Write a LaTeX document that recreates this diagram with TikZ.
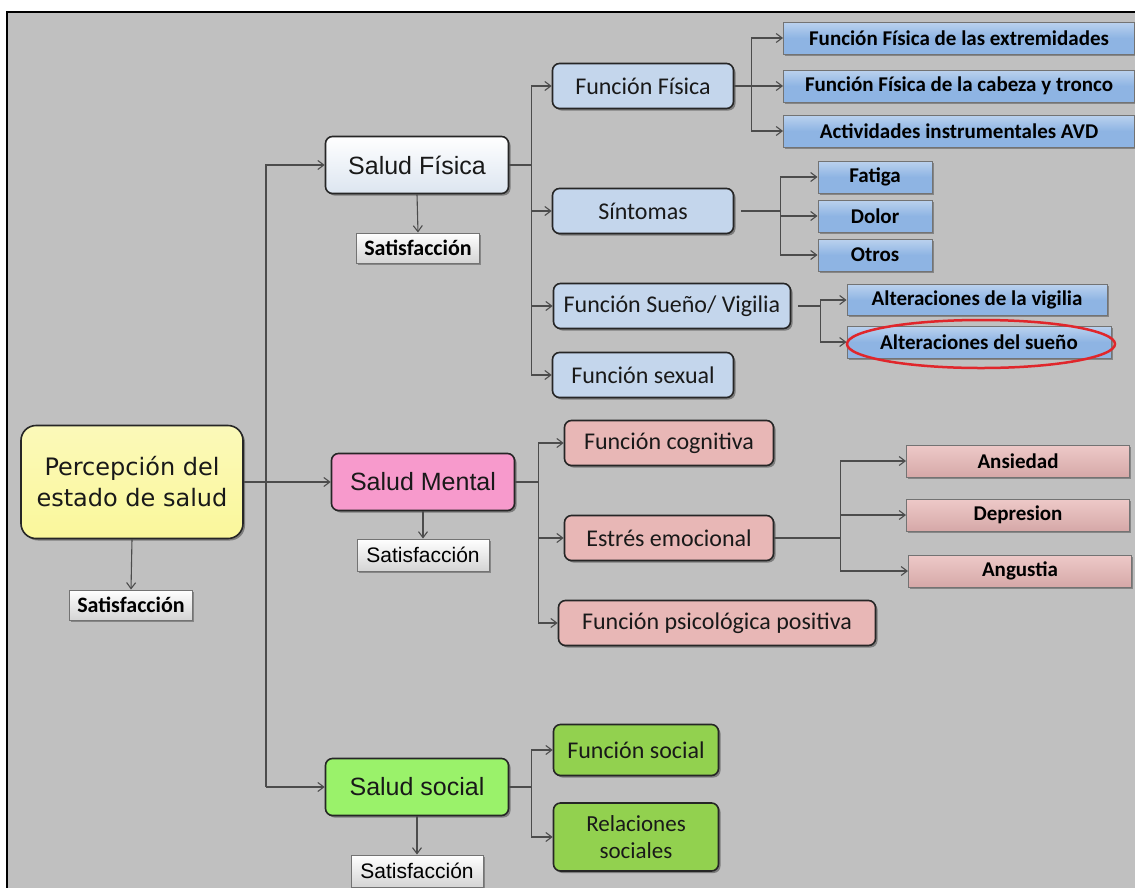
\documentclass[tikz,border=0pt]{standalone}
\usepackage{fontspec}
\newfontfamily\calfont{Carlito}
\newfontfamily\arfont{Liberation Sans}
\newfontfamily\dvfont{DejaVu Sans}
\usetikzlibrary{shadows,arrows.meta}

\definecolor{bggray}{HTML}{C0C0C0}
\definecolor{percyel}{HTML}{FAF79B}
\definecolor{fisblue}{HTML}{DCE5F0}
\definecolor{funblue}{HTML}{C4D6EC}
\definecolor{subblue}{HTML}{8EB4E3}
\definecolor{menpink}{HTML}{F79ACC}
\definecolor{funpink}{HTML}{E8B7B6}
\definecolor{socgreen}{HTML}{9AF26A}
\definecolor{fungreen}{HTML}{92D14F}
\definecolor{satgray}{HTML}{ECECEC}
\definecolor{ovalred}{HTML}{E0262B}

\begin{document}
\begin{tikzpicture}[x=1pt, y=-1pt, >={Straight Barb[length=6pt,width=9pt]},
  conn/.style={draw=black!70, line width=1.1pt},
  box/.style={draw=black!85, line width=1.6pt, rounded corners=7pt, inner sep=0pt,
    align=center, text=black!90,
    drop shadow={shadow xshift=2pt, shadow yshift=-2pt, fill=black, opacity=0.35}},
  salud/.style={box, minimum width=183pt, minimum height=57pt,
    font=\arfont\fontsize{25}{30}\selectfont},
  fun/.style={box, minimum height=45pt, font=\calfont\fontsize{24}{27}\selectfont},
  sub/.style={draw=black!55, line width=1pt, inner sep=0pt, minimum height=32pt,
    top color=subblue!60!white, bottom color=subblue, middle color=subblue,
    drop shadow={shadow xshift=1.5pt, shadow yshift=-1.5pt, fill=black, opacity=0.3},
    font=\calfont\bfseries\fontsize{21}{24}\selectfont},
  subpink/.style={sub, top color=funpink!75!white, middle color=funpink, bottom color=funpink!92!black},
  sat/.style={draw=black!55, line width=1pt, inner sep=0pt, minimum height=30pt,
    top color=white, bottom color=satgray!90!black,
    drop shadow={shadow xshift=1.5pt, shadow yshift=-1.5pt, fill=black, opacity=0.3}}]

  \useasboundingbox (0,0) rectangle (1135,887);
  \clip (0,0) rectangle (1135,887);
  \fill[white] (0,0) rectangle (1135,887);
  \fill[bggray] (7,12) rectangle (1140,890);
  \draw[line width=2pt] (7,890) -- (7,12) -- (1140,12);

  % raiz
  \node[box, rounded corners=15pt, minimum width=222pt, minimum height=113pt,
    top color=percyel!70!white, bottom color=percyel,
    font=\dvfont\fontsize{24}{31}\selectfont] (perc) at (132,482)
    {Percepción del\\estado de salud};
  \node[sat, minimum width=123pt, font=\calfont\bfseries\fontsize{22}{24}\selectfont] (sat0) at (131,605) {Satisfacción};

  % tres areas
  \node[salud, top color=white, bottom color=fisblue] (sfis) at (417,165) {Salud Física};
  \node[salud, fill=menpink] (smen) at (423,482) {Salud Mental};
  \node[salud, fill=socgreen] (ssoc) at (417,787) {Salud social};

  \node[sat, minimum width=123pt, font=\calfont\bfseries\fontsize{22}{24}\selectfont] (sat1) at (418,248) {Satisfacción};
  \node[sat, minimum width=132pt, minimum height=32pt, font=\arfont\fontsize{21}{24}\selectfont] (sat2) at (423,555) {Satisfacción};
  \node[sat, minimum width=132pt, minimum height=32pt, font=\arfont\fontsize{21}{24}\selectfont] (sat3) at (417,871) {Satisfacción};

  % salud fisica
  \node[fun, fill=funblue, minimum width=181pt] (ffis) at (643,86) {Función Física};
  \node[fun, fill=funblue, minimum width=181pt] (sint) at (643,211) {Síntomas};
  \node[fun, fill=funblue, minimum width=237pt] (fsue) at (672,306) {Función Sueño/ Vigilia};
  \node[fun, fill=funblue, minimum width=181pt] (fsex) at (643,375) {Función sexual};

  \node[sub, minimum width=351pt] (extr) at (959,38) {Función Física de las extremidades};
  \node[sub, minimum width=351pt] (cabe) at (959,86) {Función Física de la cabeza y tronco};
  \node[sub, minimum width=351pt] (avd) at (959,131) {Actividades instrumentales AVD};
  \node[sub, minimum width=114pt] (fati) at (875,177) {Fatiga};
  \node[sub, minimum width=114pt] (dolo) at (875,216) {Dolor};
  \node[sub, minimum width=114pt] (otro) at (875,255) {Otros};
  \node[sub, minimum width=260pt, minimum height=31pt] (avig) at (977,300) {Alteraciones de la vigilia};
  \node[sub, minimum width=264pt] (asue) at (979,342) {Alteraciones del sueño};
  \draw[ovalred, line width=2.5pt] (981,344) ellipse [x radius=134pt, y radius=24pt];

  % salud mental
  \node[fun, fill=funpink, minimum width=209pt] (fcog) at (669,443) {Función cognitiva};
  \node[fun, fill=funpink, minimum width=209pt] (estr) at (669,538) {Estrés emocional};
  \node[fun, fill=funpink, minimum width=317pt] (fpsi) at (717,623) {Función psicológica positiva};
  \node[subpink, minimum width=223pt] (ansi) at (1018,461) {Ansiedad};
  \node[subpink, minimum width=223pt] (depr) at (1018,515) {Depresion};
  \node[subpink, minimum width=223pt] (angu) at (1020,571) {Angustia};

  % salud social
  \node[fun, fill=fungreen, minimum width=165pt, minimum height=51pt] (fsoc) at (636,750) {Función social};
  \node[fun, fill=fungreen, minimum width=165pt, minimum height=68pt,
    font=\calfont\fontsize{23}{27}\selectfont] (frel) at (636,837) {Relaciones\\sociales};

  % conectores
  \coordinate (trk) at (266,0);
  \draw[conn,->] (perc.east) -- (smen.west);
  \draw[conn,->] (trk |- ssoc.west) |- (sfis.west);
  \draw[conn,->] (trk |- ssoc.west) -- (ssoc.west);
  \draw[conn,->] (perc.south) -- (sat0.north);
  \draw[conn,->] (sfis.south) -- (sat1.north);
  \draw[conn,->] (smen.south) -- (sat2.north);
  \draw[conn,->] (ssoc.south) -- (sat3.north);

  \foreach \c in {ffis,sint,fsue,fsex}
    \draw[conn,->] (sfis.east) -- ++(22,0) |- (\c.west);
  \foreach \c in {extr,cabe,avd}
    \draw[conn,->] (ffis.east) -- ++(17,0) |- (\c.west);
  \foreach \c in {fati,dolo,otro}
    \draw[conn,->] (sint.east) ++(7,0) -- ++(39,0) |- (\c.west);
  \foreach \c in {avig,asue}
    \draw[conn,->] (fsue.east) ++(7,0) -- ++(22,0) |- (\c.west);

  \foreach \c in {fcog,estr,fpsi}
    \draw[conn,->] (smen.east) -- ++(23,0) |- (\c.west);
  \foreach \c in {ansi,depr,angu}
    \draw[conn,->] (estr.east) -- ++(66,0) |- (\c.west);

  \foreach \c in {fsoc,frel}
    \draw[conn,->] (ssoc.east) -- ++(22,0) |- (\c.west);
\end{tikzpicture}
\end{document}
